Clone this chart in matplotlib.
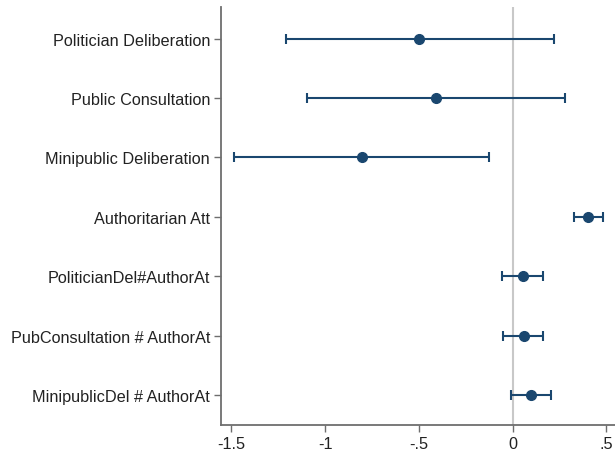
import matplotlib.pyplot as plt

plt.rcParams['font.family'] = ['Liberation Sans', 'DejaVu Sans']

# coefficients and confidence intervals (top to bottom)
labels = ["Politician Deliberation", "Public Consultation", "Minipublic Deliberation",
          "Authoritarian Att", "PoliticianDel#AuthorAt", "PubConsultation # AuthorAt",
          "MinipublicDel # AuthorAt"]
coef = [-0.498, -0.407, -0.804, 0.403, 0.053, 0.059, 0.098]
ci_low = [-1.209, -1.097, -1.485, 0.329, -0.055, -0.050, -0.007]
ci_high = [0.219, 0.281, -0.126, 0.480, 0.163, 0.163, 0.204]
xticks = [-1.5, -1, -0.5, 0, 0.5]
xticklabels = ["-1.5", "-1", "-.5", "0", ".5"]

navy = "#1a476f"

fig = plt.figure(figsize=(6.15, 4.56), dpi=100)
ax = fig.add_axes([221 / 615, 30 / 456, 394 / 615, 418 / 456])

n = len(labels)
ypos = [n - i for i in range(n)]
err = [[c - lo for c, lo in zip(coef, ci_low)], [hi - c for c, hi in zip(coef, ci_high)]]

ax.axvline(0, color="#c8c8c8", lw=1.5, zorder=1)
ax.errorbar(coef, ypos, xerr=err, fmt="o", color=navy, ms=7, elinewidth=1.5,
            capsize=3.5, capthick=1.5, zorder=3)

ax.set_xlim(-1.555, 0.546)
ax.set_ylim(0.5, 7.53)
ax.set_yticks(ypos)
ax.set_yticklabels(labels, fontsize=11.7, color="#222222")
ax.set_xticks(xticks)
ax.set_xticklabels(xticklabels, fontsize=11.7, color="#222222")

for s in ["top", "right"]:
    ax.spines[s].set_visible(False)
for s in ["left", "bottom"]:
    ax.spines[s].set_color("#6e6e6e")
    ax.spines[s].set_linewidth(1.3)
ax.tick_params(axis="both", length=5, width=1, color="#6e6e6e", pad=3)

fig.savefig("out.png", dpi=100)
